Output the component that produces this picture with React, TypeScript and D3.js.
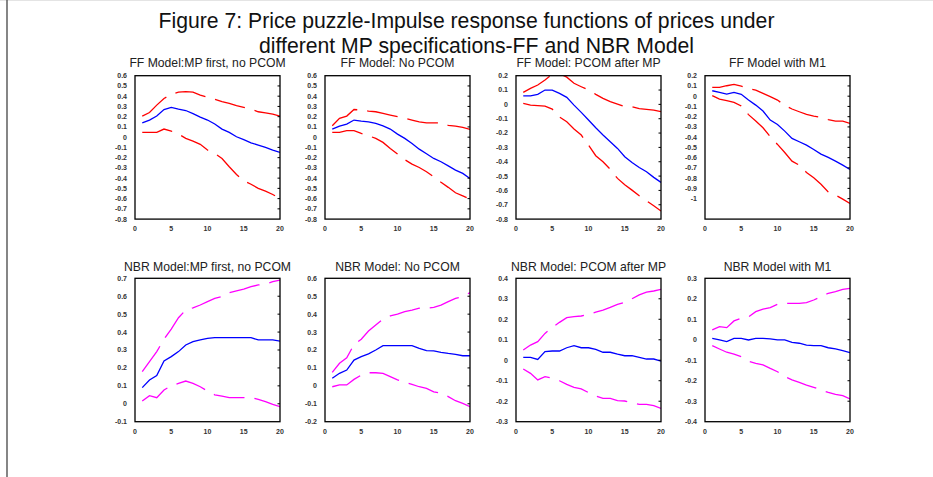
import React from "react";
import * as d3 from "d3";

// Forecast horizons (quarters after the shock)
const horizons = [1, 2, 3, 4, 5, 6, 7, 8, 9, 10, 11, 12, 13, 14, 15, 16, 17, 18, 19, 20];

const panelTitles = [
  "FF Model:MP first, no PCOM",
  "FF Model: No PCOM",
  "FF Model: PCOM after MP",
  "FF Model with M1",
  "NBR Model:MP first, no PCOM",
  "NBR Model: No PCOM",
  "NBR Model: PCOM after MP",
  "NBR Model with M1",
];

// FF model, MP first, no PCOM
const ffMpFirstMid = [0.14, 0.167, 0.206, 0.27, 0.29, 0.274, 0.26, 0.23, 0.196, 0.167, 0.128, 0.079, 0.046, 0.004, -0.025, -0.055, -0.077, -0.1, -0.126, -0.149];
const ffMpFirstUp = [0.206, 0.24, 0.313, 0.378, 0.418, 0.44, 0.444, 0.44, 0.41, 0.39, 0.37, 0.346, 0.33, 0.307, 0.29, 0.274, 0.248, 0.238, 0.225, 0.206];
const ffMpFirstLo = [0.046, 0.046, 0.046, 0.079, 0.059, 0.03, -0.012, -0.038, -0.07, -0.126, -0.16, -0.208, -0.289, -0.364, -0.426, -0.46, -0.5, -0.527, -0.56, -0.6];

// FF model, no PCOM
const ffNoPcomMid = [0.079, 0.108, 0.128, 0.167, 0.157, 0.15, 0.134, 0.111, 0.079, 0.03, -0.012, -0.061, -0.117, -0.162, -0.208, -0.24, -0.28, -0.322, -0.354, -0.403];
const ffNoPcomUp = [0.111, 0.183, 0.206, 0.27, 0.265, 0.255, 0.248, 0.232, 0.216, 0.2, 0.185, 0.167, 0.15, 0.14, 0.14, 0.14, 0.115, 0.108, 0.095, 0.076];
const ffNoPcomLo = [0.046, 0.046, 0.063, 0.063, 0.036, 0.014, -0.012, -0.051, -0.11, -0.165, -0.22, -0.263, -0.296, -0.338, -0.387, -0.44, -0.49, -0.543, -0.573, -0.605];

// FF model, PCOM ordered after MP
const ffPcomAfterMid = [0.06, 0.06, 0.07, 0.1, 0.1, 0.077, 0.049, -0.005, -0.056, -0.109, -0.163, -0.214, -0.26, -0.307, -0.365, -0.405, -0.44, -0.47, -0.509, -0.544];
const ffPcomAfterUp = [0.084, 0.112, 0.135, 0.17, 0.21, 0.215, 0.19, 0.147, 0.123, 0.1, 0.07, 0.042, 0.019, 0.002, -0.016, -0.016, -0.03, -0.035, -0.04, -0.051];
const ffPcomAfterLo = [0.007, -0.005, -0.009, -0.012, -0.033, -0.088, -0.121, -0.172, -0.214, -0.284, -0.358, -0.4, -0.453, -0.516, -0.56, -0.598, -0.637, -0.672, -0.707, -0.744];

// FF model with M1
const ffM1Mid = [0.053, 0.037, 0.021, 0.037, 0.018, -0.038, -0.087, -0.145, -0.233, -0.276, -0.341, -0.412, -0.445, -0.478, -0.52, -0.565, -0.598, -0.634, -0.673, -0.715];
const ffM1Up = [0.086, 0.086, 0.102, 0.115, 0.099, 0.075, 0.06, 0.027, -0.005, -0.038, -0.09, -0.125, -0.152, -0.178, -0.194, -0.207, -0.228, -0.243, -0.243, -0.266];
const ffM1Lo = [0.005, -0.028, -0.044, -0.06, -0.096, -0.18, -0.243, -0.308, -0.396, -0.471, -0.55, -0.634, -0.673, -0.745, -0.797, -0.86, -0.934, -0.966, -1.005, -1.048];

// NBR model, MP first, no PCOM
const nbrMpFirstMid = [0.09, 0.133, 0.157, 0.239, 0.263, 0.291, 0.328, 0.347, 0.356, 0.365, 0.369, 0.369, 0.369, 0.369, 0.369, 0.369, 0.356, 0.356, 0.356, 0.35];
const nbrMpFirstUp = [0.179, 0.235, 0.291, 0.36, 0.417, 0.48, 0.523, 0.535, 0.551, 0.57, 0.588, 0.598, 0.62, 0.63, 0.639, 0.653, 0.663, 0.667, 0.681, 0.69];
const nbrMpFirstLo = [0.015, 0.045, 0.034, 0.077, 0.1, 0.114, 0.127, 0.114, 0.095, 0.071, 0.05, 0.043, 0.034, 0.034, 0.034, 0.034, 0.025, 0.012, -0.003, -0.016];

// NBR model, no PCOM
const nbrNoPcomMid = [0.042, 0.07, 0.088, 0.144, 0.163, 0.178, 0.2, 0.224, 0.224, 0.224, 0.224, 0.224, 0.209, 0.196, 0.195, 0.187, 0.181, 0.176, 0.168, 0.168];
const nbrNoPcomUp = [0.075, 0.126, 0.157, 0.23, 0.26, 0.306, 0.34, 0.373, 0.39, 0.4, 0.414, 0.423, 0.433, 0.433, 0.438, 0.45, 0.47, 0.488, 0.498, 0.52];
const nbrNoPcomLo = [-0.005, 0.005, 0.005, 0.036, 0.06, 0.073, 0.073, 0.07, 0.051, 0.033, 0.02, 0.008, -0.005, -0.014, -0.033, -0.042, -0.06, -0.083, -0.098, -0.116];

// NBR model, PCOM ordered after MP
const nbrPcomAfterMid = [0.014, 0.014, 0.004, 0.042, 0.045, 0.045, 0.061, 0.071, 0.061, 0.061, 0.053, 0.039, 0.039, 0.03, 0.022, 0.022, 0.014, 0.006, 0.006, -0.004];
const nbrPcomAfterUp = [0.05, 0.074, 0.091, 0.131, 0.16, 0.185, 0.208, 0.213, 0.216, 0.224, 0.235, 0.245, 0.258, 0.273, 0.283, 0.3, 0.319, 0.332, 0.338, 0.346];
const nbrPcomAfterLo = [-0.043, -0.064, -0.096, -0.08, -0.088, -0.1, -0.118, -0.132, -0.14, -0.158, -0.175, -0.186, -0.186, -0.197, -0.199, -0.207, -0.215, -0.215, -0.222, -0.235];

// NBR model with M1
const nbrM1Mid = [0.007, -0.001, -0.009, 0.007, 0.007, -0.001, 0.007, 0.007, 0.004, -0.001, -0.001, -0.013, -0.017, -0.026, -0.029, -0.029, -0.039, -0.045, -0.053, -0.063];
const nbrM1Up = [0.048, 0.064, 0.059, 0.092, 0.105, 0.112, 0.137, 0.15, 0.157, 0.173, 0.178, 0.178, 0.178, 0.181, 0.194, 0.21, 0.227, 0.235, 0.246, 0.251];
const nbrM1Lo = [-0.029, -0.045, -0.061, -0.07, -0.083, -0.105, -0.115, -0.123, -0.14, -0.156, -0.18, -0.196, -0.208, -0.221, -0.232, -0.245, -0.257, -0.267, -0.273, -0.289];

// y-axis domains [bottom, top] and labelled ticks per panel
const yDomains = [
  [-0.8, 0.6], [-0.8, 0.6], [-0.8, 0.2], [-1.2, 0.2],
  [-0.1, 0.7], [-0.2, 0.6], [-0.3, 0.4], [-0.4, 0.3],
];
const yTicksWide = [0.6, 0.5, 0.4, 0.3, 0.2, 0.1, 0, -0.1, -0.2, -0.3, -0.4, -0.5, -0.6, -0.7, -0.8];
const yTicksPcom = [0.2, 0.1, 0, -0.1, -0.2, -0.3, -0.4, -0.5, -0.6, -0.7, -0.8];
const yTicksM1 = [0.2, 0.1, 0, -0.1, -0.2, -0.3, -0.4, -0.5, -0.6, -0.7, -0.8, -0.9, -1];
const yTicksNbr1 = [0.7, 0.6, 0.5, 0.4, 0.3, 0.2, 0.1, 0, -0.1];
const yTicksNbr2 = [0.6, 0.5, 0.4, 0.3, 0.2, 0.1, 0, -0.1, -0.2];
const yTicksNbr3 = [0.4, 0.3, 0.2, 0.1, 0, -0.1, -0.2, -0.3];
const yTicksNbr4 = [0.3, 0.2, 0.1, 0, -0.1, -0.2, -0.3, -0.4];
const xTicks = [0, 5, 10, 15, 20];

const titleLines = [
  "Figure 7: Price puzzle-Impulse response functions of prices under",
  "different MP specifications-FF and NBR Model",
];

const panels = [
  { mid: ffMpFirstMid, up: ffMpFirstUp, lo: ffMpFirstLo, ticks: yTicksWide },
  { mid: ffNoPcomMid, up: ffNoPcomUp, lo: ffNoPcomLo, ticks: yTicksWide },
  { mid: ffPcomAfterMid, up: ffPcomAfterUp, lo: ffPcomAfterLo, ticks: yTicksPcom },
  { mid: ffM1Mid, up: ffM1Up, lo: ffM1Lo, ticks: yTicksM1 },
  { mid: nbrMpFirstMid, up: nbrMpFirstUp, lo: nbrMpFirstLo, ticks: yTicksNbr1 },
  { mid: nbrNoPcomMid, up: nbrNoPcomUp, lo: nbrNoPcomLo, ticks: yTicksNbr2 },
  { mid: nbrPcomAfterMid, up: nbrPcomAfterUp, lo: nbrPcomAfterLo, ticks: yTicksNbr3 },
  { mid: nbrM1Mid, up: nbrM1Up, lo: nbrM1Lo, ticks: yTicksNbr4 },
];

const W = 933;
const H = 477;
const colLeft = [135, 325, 516, 705];
const rowTop = [75.7, 278.3];
const plotW = 145;
const plotH = 143.4;
const FONT = "'Liberation Sans', Arial, sans-serif";

const fmt = (v: number) => String(+v.toFixed(1));

function Panel({ idx }: { idx: number }) {
  const p = panels[idx];
  const row = idx < 4 ? 0 : 1;
  const left = colLeft[idx % 4];
  const top = rowTop[row];
  const bandColor = row === 0 ? "#ff0000" : "#ff00ff";
  const x = d3.scaleLinear().domain([0, 20]).range([0, plotW]);
  const y = d3.scaleLinear().domain(yDomains[idx]).range([plotH, 0]);
  const line = d3
    .line<number>()
    .x((_, i) => x(horizons[i]))
    .y((d) => y(d));
  const clipId = `clip-${idx}`;
  return (
    <g transform={`translate(${left},${top})`}>
      <defs>
        <clipPath id={clipId}>
          <rect x={0} y={0} width={plotW} height={plotH} />
        </clipPath>
      </defs>
      <text
        x={plotW / 2}
        y={row === 0 ? -8.5 : -7.5}
        textAnchor="middle"
        fontFamily={FONT}
        fontSize={12.2}
        fill="#222"
      >
        {panelTitles[idx]}
      </text>
      <g clipPath={`url(#${clipId})`}>
        <path d={line(p.up) || ""} fill="none" stroke={bandColor} strokeWidth={1.3} strokeDasharray="31,10" />
        <path d={line(p.lo) || ""} fill="none" stroke={bandColor} strokeWidth={1.3} strokeDasharray="31,10" />
        <path d={line(p.mid) || ""} fill="none" stroke="#0000ff" strokeWidth={1.3} />
      </g>
      {p.ticks.map((t) => (
        <g key={`y${t}`}>
          <text
            x={-8}
            y={y(t)}
            dy="0.35em"
            textAnchor="end"
            fontFamily={FONT}
            fontSize={7}
            fontWeight="bold"
            fill="#333"
          >
            {fmt(t)}
          </text>
          {y(t) > 1 && y(t) < plotH - 1 ? (
            <line x1={plotW - 2.5} x2={plotW} y1={y(t)} y2={y(t)} stroke="#000" strokeWidth={1} />
          ) : null}
        </g>
      ))}
      {xTicks.map((t) => (
        <text
          key={`x${t}`}
          x={x(t)}
          y={plotH + 12}
          textAnchor="middle"
          fontFamily={FONT}
          fontSize={7}
          fontWeight="bold"
          fill="#333"
        >
          {t}
        </text>
      ))}
      <rect x={0} y={0} width={plotW} height={plotH} fill="none" stroke="#000" strokeWidth={1.3} />
    </g>
  );
}

export default function App() {
  return (
    <svg
      width={W}
      height={H}
      viewBox={`0 0 ${W} ${H}`}
      style={{ position: "absolute", left: 0, top: 0, background: "#fff" }}
    >
      <rect x={0} y={0} width={W} height={H} fill="#fff" />
      <line x1={0} x2={W} y1={0.5} y2={0.5} stroke="#e4e4e4" strokeWidth={1} />
      <line x1={7} x2={7} y1={0} y2={H} stroke="#444" strokeWidth={1.3} />
      <text x={466.5} y={27.5} textAnchor="middle" fontFamily={FONT} fontSize={21.2} fill="#111">
        {titleLines[0]}
      </text>
      <text x={476.5} y={52.5} textAnchor="middle" fontFamily={FONT} fontSize={21.2} fill="#111">
        {titleLines[1]}
      </text>
      {panels.map((_, i) => (
        <Panel key={i} idx={i} />
      ))}
    </svg>
  );
}
